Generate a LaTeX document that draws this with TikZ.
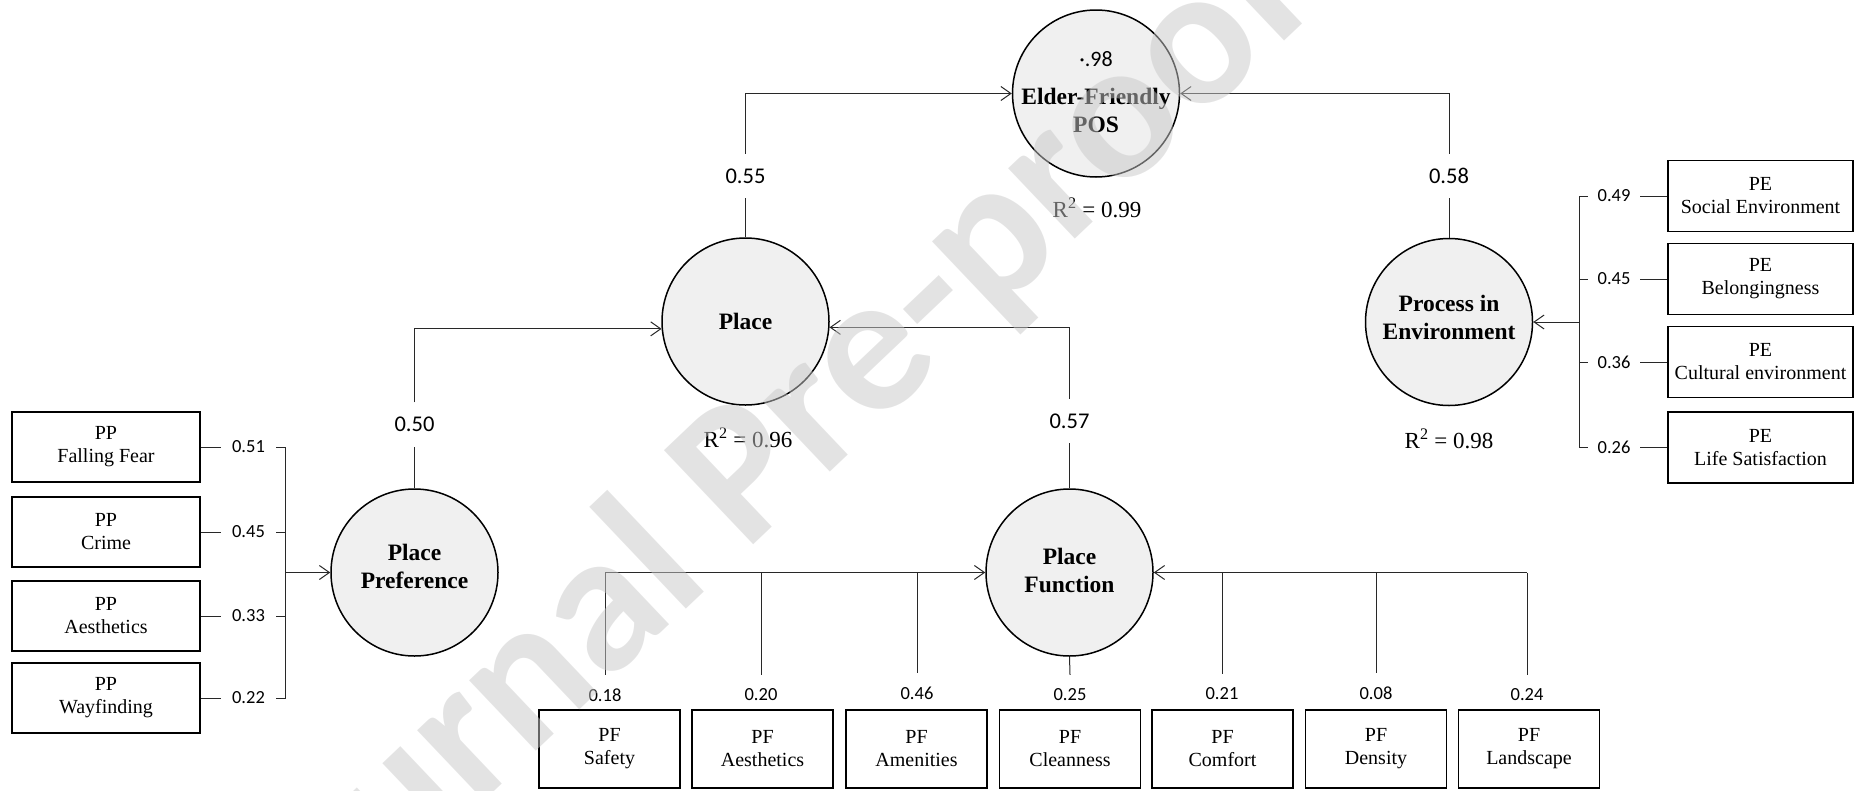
\documentclass[tikz,border=0pt]{standalone}
\usepackage{fontspec}
\setmainfont{Liberation Serif}
\newfontfamily\calib{Carlito}
\usetikzlibrary{arrows.meta}
\definecolor{latfill}{RGB}{240,240,240}
\definecolor{wm}{RGB}{200,200,200}
\definecolor{ln}{RGB}{40,40,40}
\begin{document}
\begin{tikzpicture}[x=1pt,y=-1pt,
  latent/.style={circle, draw=black, line width=1.5pt, fill=latfill, minimum size=167pt, inner sep=0pt},
  lattext/.style={font=\fontsize{23.5}{28}\selectfont\bfseries, align=center, inner sep=0pt},
  indbox/.style={draw=black, line width=1.6pt, fill=white, align=center, font=\fontsize{20}{23}\selectfont, inner sep=0pt},
  pathlab/.style={font=\fontsize{22.5}{26}\selectfont\calib, minimum height=44pt, inner sep=0pt},
  loadlab/.style={font=\fontsize{18.5}{22}\selectfont\calib, inner sep=0pt},
  rsq/.style={font=\fontsize{23}{26}\selectfont, inner sep=0pt},
  conn/.style={draw=ln, line width=1pt},
  arr/.style={conn, -{Straight Barb[length=10pt,width=14pt]}},
]
\useasboundingbox (0,0) rectangle (1854,790);

% latent variables
\node[latent] (efp) at (1096,93.5) {};
\node[lattext] (efpt) at (1096,110) {Elder-Friendly\\POS};
\node[font=\fontsize{22}{26}\selectfont\calib, inner sep=0pt] (efpv) at (1096,59.5) {·.98};
\node[rsq] (efpr) at (1097,208) {R\textsuperscript{2} = 0.99};

\node[latent] (place) at (745.5,321.5) {};
\node[lattext] (placet) at (745.5,321) {Place};
\node[rsq] (placer) at (748,438) {R\textsuperscript{2} = 0.96};

\node[latent] (ppc) at (414.5,572.5) {};
\node[lattext] (ppct) at (414.5,566.5) {Place\\Preference};

\node[latent] (pfc) at (1069.5,572.5) {};
\node[lattext] (pfct) at (1069.5,570) {Place\\Function};

\node[latent] (pie) at (1449,322) {};
\node[lattext] (piet) at (1449,317) {Process in\\Environment};
\node[rsq] (pier) at (1449,439) {R\textsuperscript{2} = 0.98};

% structural paths
\node[pathlab] (l055) at (745.5,176) {0.55};
\draw[conn] (place.north) -- (l055.south);
\draw[arr] (l055.north) |- (efp.west);

\node[pathlab] (l058) at (1449,176) {0.58};
\draw[conn] (pie.north) -- (l058.south);
\draw[arr] (l058.north) |- (efp.east);

\node[pathlab] (l057) at (1069.5,421) {0.57};
\draw[conn] (pfc.north) -- (l057.south);
\draw[arr] (l057.north) |- (place.-4);

\node[pathlab] (l050) at (414.5,424.5) {0.50};
\draw[conn] (ppc.north) -- (l050.south);
\draw[arr] (l050.north) |- (place.185);

% Place Preference indicators
\node[indbox, minimum width=188pt, minimum height=70pt] (pp1) at (106,447) {PP\\Falling Fear};
\node[indbox, minimum width=188pt, minimum height=70pt] (pp2) at (106,532) {PP\\Crime};
\node[indbox, minimum width=188pt, minimum height=70pt] (pp3) at (106,616) {PP\\Aesthetics};
\node[indbox, minimum width=188pt, minimum height=70pt] (pp4) at (106,698) {PP\\Wayfinding};
\node[loadlab, minimum width=55pt] (lpp1) at (248.5,447) {0.51};
\node[loadlab, minimum width=55pt] (lpp2) at (248.5,532) {0.45};
\node[loadlab, minimum width=55pt] (lpp3) at (248.5,616) {0.33};
\node[loadlab, minimum width=55pt] (lpp4) at (248.5,698) {0.22};
\coordinate (ppbt) at (285,447);
\coordinate (ppbb) at (285,698);
\draw[conn] (pp1.east) -- (lpp1.west);
\draw[conn] (pp2.east) -- (lpp2.west);
\draw[conn] (pp3.east) -- (lpp3.west);
\draw[conn] (pp4.east) -- (lpp4.west);
\draw[conn] (lpp1.east) -- (ppbt) -- (ppbb) -- (lpp4.east);
\draw[conn] (lpp2.east) -- (lpp2.east -| ppbt);
\draw[conn] (lpp3.east) -- (lpp3.east -| ppbt);
\draw[arr] (ppc.west -| ppbt) -- (ppc.west);

% Process in Environment indicators
\node[indbox, minimum width=185pt, minimum height=71pt] (pe1) at (1760.5,196) {PE\\Social Environment};
\node[indbox, minimum width=185pt, minimum height=71pt] (pe2) at (1760.5,279) {PE\\Belongingness};
\node[indbox, minimum width=185pt, minimum height=71pt] (pe3) at (1760.5,362) {PE\\Cultural environment};
\node[indbox, minimum width=185pt, minimum height=71pt] (pe4) at (1760.5,447.5) {PE\\Life Satisfaction};
\node[loadlab, minimum width=52pt] (lpe1) at (1614,196) {0.49};
\node[loadlab, minimum width=52pt] (lpe2) at (1614,279) {0.45};
\node[loadlab, minimum width=52pt] (lpe3) at (1614,362) {0.36};
\node[loadlab, minimum width=52pt] (lpe4) at (1614,447.5) {0.26};
\coordinate (pebt) at (1579,196);
\coordinate (pebb) at (1579,447.5);
\draw[conn] (pe1.west) -- (lpe1.east);
\draw[conn] (pe2.west) -- (lpe2.east);
\draw[conn] (pe3.west) -- (lpe3.east);
\draw[conn] (pe4.west) -- (lpe4.east);
\draw[conn] (lpe1.west) -- (pebt) -- (pebb) -- (lpe4.west);
\draw[conn] (lpe2.west) -- (lpe2.west -| pebt);
\draw[conn] (lpe3.west) -- (lpe3.west -| pebt);
\draw[arr] (pie.east -| pebt) -- (pie.east);

% Place Function indicators
\node[indbox, minimum width=141pt, minimum height=78pt] (pf1) at (609.5,749) {PF\\Safety};
\node[indbox, minimum width=141pt, minimum height=78pt] (pf2) at (762.5,749) {PF\\Aesthetics};
\node[indbox, minimum width=141pt, minimum height=78pt] (pf3) at (916.5,749) {PF\\Amenities};
\node[indbox, minimum width=141pt, minimum height=78pt] (pf4) at (1070,749) {PF\\Cleanness};
\node[indbox, minimum width=141pt, minimum height=78pt] (pf5) at (1222.5,749) {PF\\Comfort};
\node[indbox, minimum width=141pt, minimum height=78pt] (pf6) at (1376,749) {PF\\Density};
\node[indbox, minimum width=141pt, minimum height=78pt] (pf7) at (1529,749) {PF\\Landscape};
\node[loadlab, minimum height=40pt] (lpf1) at (605,695) {0.18};
\node[loadlab, minimum height=40pt] (lpf2) at (761,695) {0.20};
\node[loadlab, minimum height=40pt] (lpf3) at (917,693) {0.46};
\node[loadlab, minimum height=40pt] (lpf4) at (1070,695) {0.25};
\node[loadlab, minimum height=40pt] (lpf5) at (1222,694) {0.21};
\node[loadlab, minimum height=40pt] (lpf6) at (1376,693) {0.08};
\node[loadlab, minimum height=40pt] (lpf7) at (1527,695) {0.24};
\draw[conn] (lpf1.north) -- (lpf1.north |- pfc.west);
\draw[conn] (lpf2.north) -- (lpf2.north |- pfc.west);
\draw[conn] (lpf3.north) -- (lpf3.north |- pfc.west);
\draw[conn] (lpf5.north) -- (lpf5.north |- pfc.east);
\draw[conn] (lpf6.north) -- (lpf6.north |- pfc.east);
\draw[conn] (lpf7.north) -- (lpf7.north |- pfc.east);
\draw[conn] (pfc.south) -- (lpf4.north);
\draw[arr] (lpf1.north |- pfc.west) -- (pfc.west);
\draw[arr] (lpf7.north |- pfc.east) -- (pfc.east);

% watermark
\node[font=\fontsize{200}{200}\selectfont\calib\bfseries, text=wm, text opacity=0.5, rotate=43.5, anchor=base west, inner sep=0pt] (wmark) at (272,1002) {Journal Pre-proof};
\end{tikzpicture}
\end{document}
